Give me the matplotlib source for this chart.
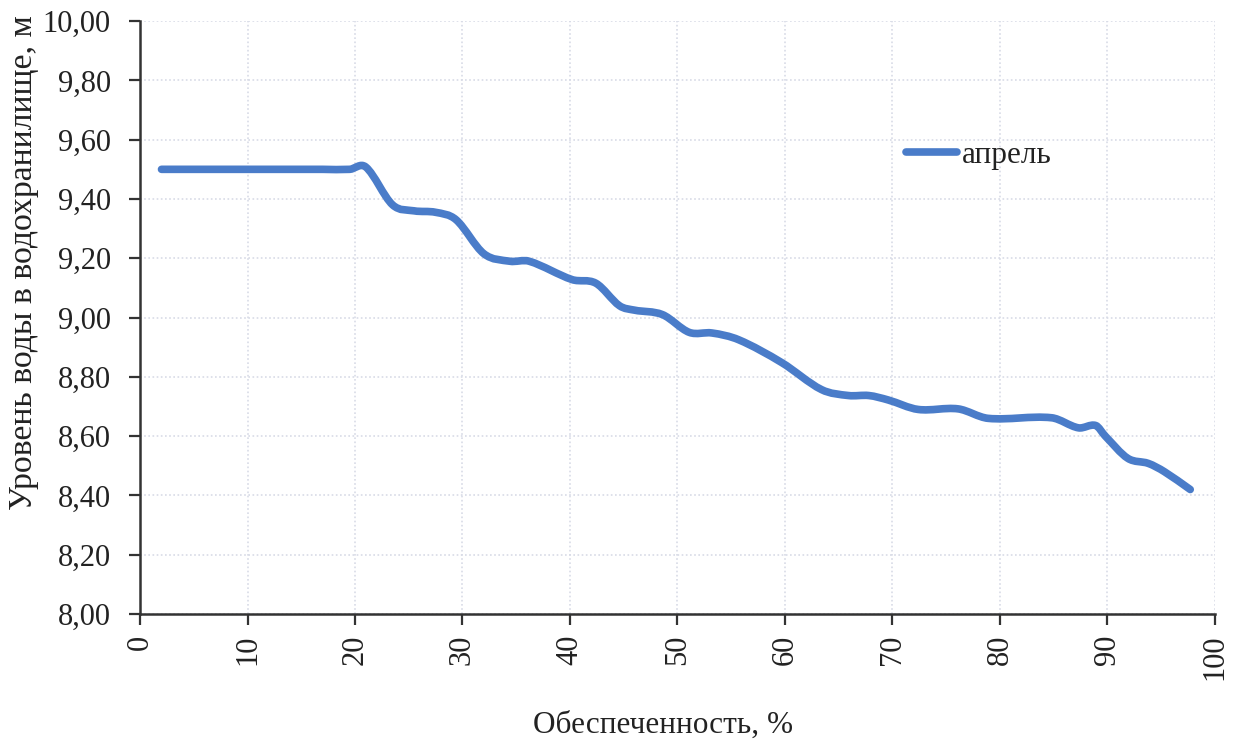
import numpy as np
import matplotlib.pyplot as plt
from matplotlib.path import Path
from matplotlib.patches import PathPatch
from matplotlib.lines import Line2D
from matplotlib.ticker import FuncFormatter

plt.rcParams['font.family'] = ['Liberation Serif', 'DejaVu Serif']

prob = [2, 10, 17, 19.5, 21, 23.5, 25.5, 27.5, 29.4, 32, 34.4, 36.2, 40.2, 42.4,
        44.6, 46, 48.6, 51.1, 53.2, 55.7, 59.7, 63.4, 65.9, 67.8, 69.6, 72.4,
        76.1, 78.9, 84.8, 87.3, 88.9, 89.8, 91.9, 93.8, 95.3, 97.7]
level = [9.50, 9.50, 9.50, 9.50, 9.508, 9.38, 9.36, 9.355, 9.33, 9.215, 9.19,
         9.19, 9.128, 9.116, 9.04, 9.025, 9.01, 8.95, 8.948, 8.925, 8.848,
         8.757, 8.737, 8.737, 8.722, 8.69, 8.692, 8.66, 8.662, 8.628, 8.636,
         8.60, 8.525, 8.508, 8.48, 8.42]
series_name = 'апрель'
line_color = '#4a7cc9'


def smooth_path(x, y):
    # smoothed line: cubic Bezier (Hermite) segments through the points
    x = np.asarray(x, float)
    y = np.asarray(y, float)
    n = len(x)
    m = np.zeros(n)
    m[1:-1] = (y[2:] - y[:-2]) / (x[2:] - x[:-2])
    m[0] = (y[1] - y[0]) / (x[1] - x[0])
    m[-1] = (y[-1] - y[-2]) / (x[-1] - x[-2])
    verts = [(x[0], y[0])]
    codes = [Path.MOVETO]
    for i in range(n - 1):
        h = x[i + 1] - x[i]
        verts += [(x[i] + h / 3, y[i] + m[i] * h / 3),
                  (x[i + 1] - h / 3, y[i + 1] - m[i + 1] * h / 3),
                  (x[i + 1], y[i + 1])]
        codes += [Path.CURVE4] * 3
    return Path(verts, codes)


fig = plt.figure(figsize=(12.39, 7.43), dpi=100)
ax = fig.add_axes([0.113, 0.1736, 0.8676, 0.798])

ax.add_patch(PathPatch(smooth_path(prob, level), fill=False, edgecolor=line_color,
                       lw=5.5, capstyle='round', joinstyle='round', zorder=3))

ax.set_xlim(0, 100)
ax.set_ylim(8.0, 10.0)
ax.set_xticks(np.arange(0, 101, 10))
ax.set_yticks(np.arange(8.0, 10.01, 0.2))
ax.yaxis.set_major_formatter(FuncFormatter(lambda v, p: f'{v:.2f}'.replace('.', ',')))
ax.tick_params(axis='both', labelsize=22, direction='out', length=8, width=1.6,
               color='#333333', labelcolor='#222222')
ax.tick_params(axis='y', pad=13)
ax.tick_params(axis='x', labelrotation=90, pad=7)
ax.grid(True, color='#d8dbe6', linestyle=(0, (1, 1.5)), linewidth=1.2)

for s in ['top', 'right']:
    ax.spines[s].set_visible(False)
for s in ['left', 'bottom']:
    ax.spines[s].set_color('#333333')
    ax.spines[s].set_linewidth(1.8)

ax.set_xlabel('Обеспеченность, %', fontsize=22.5, color='#222222')
ax.xaxis.set_label_coords(0.4865, -0.163)
ax.set_ylabel('Уровень воды в водохранилище, м', fontsize=24.3, color='#222222')
ax.yaxis.set_label_coords(-0.094, 0.593)

handle = Line2D([], [], color=line_color, lw=5.5, solid_capstyle='round')
ax.legend([handle], [series_name], loc='center left', bbox_to_anchor=(0.686, 0.773),
          frameon=False, fontsize=22.5, handlelength=1.65, handletextpad=0.15,
          labelcolor='#222222')

fig.savefig('out.png', dpi=100)
